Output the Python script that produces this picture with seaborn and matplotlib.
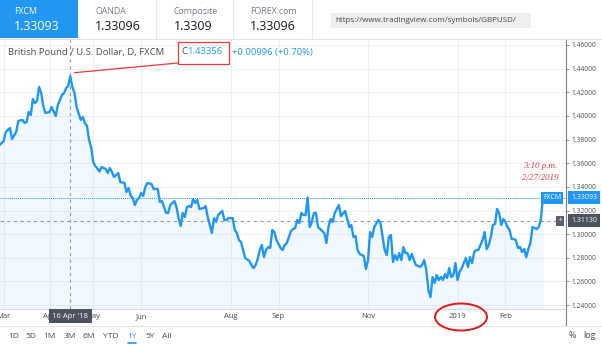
import numpy as np
import pandas as pd
import matplotlib
matplotlib.use("Agg")
import matplotlib.pyplot as plt
import matplotlib.transforms as mtransforms
from matplotlib.patches import Rectangle, Ellipse, ConnectionPatch
from matplotlib.lines import Line2D
import seaborn as sns

# GBP/USD daily closes (FXCM), indexed by trading day counted from 27 Feb 2018
day = [0, 2, 3, 5, 6, 8, 9, 11, 12, 13, 14, 15, 16, 17, 18, 19, 20, 21, 22, 24,
       25, 27, 28, 29, 30, 31, 32, 33, 34, 35, 36, 37, 39, 40, 41, 42, 43, 44, 45, 46,
       47, 48, 49, 51, 52, 53, 54, 55, 57, 58, 60, 61, 62, 63, 64, 65, 66, 67, 68, 69,
       70, 71, 73, 74, 76, 77, 78, 79, 80, 81, 82, 84, 85, 86, 87, 88, 89, 90, 91, 92,
       93, 94, 95, 96, 98, 99, 100, 101, 102, 103, 104, 105, 107, 108, 109, 110, 112, 113, 114, 115,
       116, 117, 118, 120, 121, 122, 123, 124, 125, 126, 127, 128, 129, 130, 131, 132, 133, 135, 136, 137,
       138, 139, 140, 141, 142, 143, 144, 145, 146, 147, 148, 149, 150, 151, 152, 153, 154, 156, 157, 158,
       159, 160, 161, 163, 164, 166, 167, 168, 169, 170, 171, 172, 173, 175, 176, 177, 178, 179, 180, 182,
       183, 184, 185, 186, 187, 188, 189, 190, 191, 192, 193, 194, 195, 196, 197, 198, 199, 200, 202, 203,
       204, 205, 206, 207, 208, 209, 210, 211, 212, 213, 214, 215, 216, 217, 218, 219, 220, 221, 222, 224,
       225, 226, 227, 228, 229, 230, 231, 232, 233, 234, 235, 236, 237, 238, 239, 240, 241, 242, 243, 244,
       245, 246, 247, 248, 249, 250, 251, 252, 253, 254, 255, 256, 257, 258, 259, 260, 261]
close = [1.3754, 1.3788, 1.3864, 1.3898, 1.3805, 1.3864, 1.3957, 1.3966, 1.3940, 1.3949,
         1.4033, 1.4008, 1.4143, 1.4109, 1.4126, 1.4245, 1.4194, 1.4084, 1.4025, 1.4033,
         1.4075, 1.3999, 1.4092, 1.4135, 1.4177, 1.4194, 1.4236, 1.4253, 1.43356, 1.4245,
         1.4194, 1.4075, 1.3966, 1.3991, 1.3940, 1.3915, 1.3796, 1.3737, 1.3610, 1.3576,
         1.3555, 1.3530, 1.3568, 1.3551, 1.3517, 1.3559, 1.3526, 1.3483, 1.3517, 1.3441,
         1.3433, 1.3356, 1.3390, 1.3323, 1.3306, 1.3246, 1.3289, 1.3306, 1.3348, 1.3323,
         1.3399, 1.3433, 1.3424, 1.3382, 1.3382, 1.3272, 1.3280, 1.3229, 1.3179, 1.3179,
         1.3246, 1.3280, 1.3229, 1.3136, 1.3069, 1.3179, 1.3145, 1.3229, 1.3238, 1.3229,
         1.3297, 1.3263, 1.3289, 1.3213, 1.3221, 1.3238, 1.3145, 1.3077, 1.3010, 1.3136,
         1.3103, 1.3162, 1.3196, 1.3120, 1.3120, 1.3136, 1.3136, 1.3035, 1.3010, 1.2950,
         1.2933, 1.2866, 1.2798, 1.2773, 1.2739, 1.2713, 1.2739, 1.2790, 1.2866, 1.2908,
         1.2806, 1.2866, 1.2891, 1.2883, 1.3035, 1.3018, 1.2950, 1.2883, 1.2866, 1.2908,
         1.2925, 1.2976, 1.3026, 1.3043, 1.3052, 1.3120, 1.3094, 1.3179, 1.3162, 1.3162,
         1.3310, 1.3060, 1.3103, 1.3179, 1.3179, 1.3060, 1.3043, 1.3010, 1.2925, 1.3060,
         1.3128, 1.3103, 1.3179, 1.3246, 1.3153, 1.3196, 1.3128, 1.3060, 1.3077, 1.2976,
         1.2984, 1.2866, 1.2832, 1.2815, 1.2705, 1.2781, 1.3018, 1.2976, 1.3060, 1.3120,
         1.3094, 1.2976, 1.2866, 1.2823, 1.2976, 1.2993, 1.2764, 1.2823, 1.2781, 1.2840,
         1.2781, 1.2891, 1.2840, 1.2840, 1.2781, 1.2832, 1.2781, 1.2739, 1.2722, 1.2739,
         1.2781, 1.2697, 1.2527, 1.2468, 1.2637, 1.2587, 1.2654, 1.2612, 1.2637, 1.2612,
         1.2663, 1.2629, 1.2713, 1.2637, 1.2654, 1.2756, 1.2612, 1.2680, 1.2713, 1.2798,
         1.2722, 1.2806, 1.2756, 1.2849, 1.2866, 1.2866, 1.2908, 1.2950, 1.3018, 1.2874,
         1.2908, 1.2976, 1.3077, 1.3086, 1.3213, 1.3179, 1.3077, 1.3128, 1.3103, 1.3060,
         1.3035, 1.2959, 1.2959, 1.2950, 1.2883, 1.2891, 1.2849, 1.2874, 1.2806, 1.2874,
         1.2925, 1.3060, 1.3052, 1.3043, 1.3060, 1.3120, 1.33093]

# month boundaries on the trading-day axis
tick_days = [2, 24, 45, 68, 111, 134, 177, 220, 243]
tick_labels = ["Mar", "Apr", "May", "Jun", "Aug", "Sep", "Nov", "2019", "Feb"]
price_ticks = [1.24, 1.26, 1.28, 1.30, 1.32, 1.34, 1.36, 1.38, 1.40, 1.42, 1.44, 1.46]

last_close = 1.33093
cursor_price = 1.31130
cursor_day = 34
cursor_label = "16 Apr '18"
peak_label = "1.43356"
change_label = "+0.00996 (+0.70%)"
title = "British Pound / U.S. Dollar, D, FXCM"
stamp = ["3:10 p.m.", "2/27/2019"]

feeds = ["FXCM", "OANDA", "Composite", "FOREX.com"]
feed_prices = ["1.33093", "1.33096", "1.3309", "1.33096"]
url = "https://www.tradingview.com/symbols/GBPUSD/"
ranges = ["1D", "5D", "1M", "3M", "6M", "YTD", "1Y", "5Y", "All"]
active_range = "1Y"

BLUE = "#2196f3"
RED = "#e8383d"
GRID = "#edf1f6"
TEXT = "#4a4a4a"
DARK = "#4c525e"

sns.set_style("white")
plt.rcParams["font.family"] = ["Open Sans", "DejaVu Sans"]

W, H = 602, 349
fig = plt.figure(figsize=(W / 100, H / 100), dpi=100)
fig.patch.set_facecolor("white")
# pixel coordinates measured from the top-left corner of the figure
px = mtransforms.Affine2D().scale(1 / W, -1 / H).translate(0, 1) + fig.transFigure

ax = fig.add_axes([0, 1 - 309 / H, 566 / W, (309 - 40) / H])
df = pd.DataFrame({"day": day, "close": close})
y_lo, y_hi = 1.2367, 1.4642
ax.fill_between(df["day"], df["close"], y_lo, color=BLUE, alpha=0.06, lw=0, zorder=2)
sns.lineplot(data=df, x="day", y="close", ax=ax, color=BLUE, lw=1.7, zorder=4)
ax.set_xlim(0.22, 272.1)
ax.set_ylim(y_lo, y_hi)

ax.yaxis.tick_right()
ax.set_yticks(price_ticks)
ax.set_yticklabels([f"{v:.5f}" for v in price_ticks])
ax.set_xticks(tick_days)
ax.set_xticklabels(tick_labels)
ax.set_xlabel("")
ax.set_ylabel("")
ax.grid(True, color=GRID, lw=0.8, zorder=0)
for s in ("top", "left"):
    ax.spines[s].set_visible(False)
ax.spines["right"].set_color("#7b7f8a")
ax.spines["right"].set_linewidth(0.8)
ax.spines["bottom"].set_color("#d6dae2")
ax.spines["bottom"].set_linewidth(0.8)
ax.tick_params(axis="y", length=2, width=0.6, color="#7b7f8a", labelsize=4.8,
               labelcolor=TEXT, pad=2)
ax.tick_params(axis="x", length=2, width=0.6, color="#b8bcc6", labelsize=5.5,
               labelcolor=TEXT, pad=1.0)

# last price guide and crosshair
ax.axhline(last_close, color=BLUE, lw=0.7, ls=(0, (1, 1)), zorder=3)
ax.axhline(cursor_price, color="#9598a1", lw=0.8, ls=(0, (3, 3)), zorder=3)
ax.axvline(cursor_day, color="#9598a1", lw=0.8, ls=(0, (3, 3)), zorder=3)

# right-hand price tags
tag_tr = mtransforms.blended_transform_factory(px, ax.transData)
fig.text(584, last_close, f"{last_close:.5f}", transform=tag_tr, ha="center", va="center",
         fontsize=5, color="white", zorder=6,
         bbox=dict(boxstyle="square,pad=0.45", fc=BLUE, ec="none"))
fig.text(552, last_close, feeds[0], transform=tag_tr, ha="center", va="center",
         fontsize=5, color="white", zorder=6,
         bbox=dict(boxstyle="square,pad=0.35", fc=BLUE, ec="none"))
fig.text(584, cursor_price, f"{cursor_price:.5f}", transform=tag_tr, ha="center", va="center",
         fontsize=5, color="white", zorder=6,
         bbox=dict(boxstyle="square,pad=0.45", fc=DARK, ec="none"))
fig.text(560, cursor_price, "+", transform=tag_tr, ha="center", va="center",
         fontsize=6, color="white", zorder=6,
         bbox=dict(boxstyle="square,pad=0.15", fc="#5d606b", ec="none"))

# crosshair date tag
date_tr = mtransforms.blended_transform_factory(ax.transData, px)
fig.text(cursor_day, 316, cursor_label, transform=date_tr, ha="center", va="center",
         fontsize=5.5, color="white", zorder=6,
         bbox=dict(boxstyle="square,pad=0.5", fc=DARK, ec="none"))

# legend line at the top of the pane
fig.text(8, 52, title, transform=px, ha="left", va="center", fontsize=6.8, color=TEXT, zorder=6)
fig.text(181.5, 52, "C", transform=px, ha="left", va="center", fontsize=6.8, color=TEXT, zorder=6)
fig.text(187.5, 52, peak_label, transform=px, ha="left", va="center", fontsize=6.8, color=BLUE, zorder=6)
fig.text(232, 52, change_label, transform=px, ha="left", va="center", fontsize=6.8, color=BLUE, zorder=6)
fig.add_artist(Rectangle((178, 42), 51, 22, transform=px, fill=False, ec=RED, lw=0.9, zorder=6))
fig.add_artist(ConnectionPatch(xyA=(cursor_day + 2, float(peak_label) + 0.003), coordsA=ax.transData,
                               xyB=(178, 63), coordsB=px, color=RED, lw=0.9, zorder=6))

# handwritten time stamp
for i, s in enumerate(stamp):
    fig.text(540, 166 + 12 * i, s, transform=px, ha="center", va="center", fontsize=6.5,
             color=RED, style="italic", family=["Liberation Serif", "DejaVu Serif"], zorder=6)

# circle round the year label
fig.add_artist(Ellipse((461, 317), 52, 27, transform=px, fill=False, ec="#e01818", lw=1.4, zorder=7))

# header tabs
fig.add_artist(Rectangle((0, 0), 78, 38, transform=px, fc=BLUE, ec="none", zorder=1))
tab_x = [14, 95, 174, 250]
for i, (f, p) in enumerate(zip(feeds, feed_prices)):
    first = i == 0
    fig.text(tab_x[i], 12, f, transform=px, ha="left", va="center", fontsize=6.3,
             color="white" if first else "#787b86", zorder=5)
    fig.text(tab_x[i], 26, p, transform=px, ha="left", va="center", fontsize=9,
             color="white" if first else "#131722", zorder=5)
for xs in (156, 233, 312):
    fig.add_artist(Line2D([xs, xs], [0, 38], transform=px, color="#e6e8ee", lw=0.8))
fig.add_artist(Line2D([0, W], [39, 39], transform=px, color="#e0e3eb", lw=0.8))
fig.add_artist(Rectangle((331, 13), 200, 15, transform=px, fc="#efefef", ec="none", zorder=1))
fig.text(335, 20.5, url, transform=px, ha="left", va="center", fontsize=5.8, color="#444444", zorder=5)

# date-axis frame and range toolbar
fig.add_artist(Line2D([566, 566], [309, 326], transform=px, color="#7b7f8a", lw=0.8))
fig.add_artist(Line2D([0, W], [326, 326], transform=px, color="#e0e3eb", lw=0.8))
range_x = [13.5, 31, 49, 69.5, 89, 111, 132, 150.5, 167]
for xr, r in zip(range_x, ranges):
    fig.text(xr, 336, r, transform=px, ha="center", va="center", fontsize=6,
             color=BLUE if r == active_range else TEXT, zorder=5)
    if r == active_range:
        fig.add_artist(Line2D([xr - 4, xr + 4], [343, 343], transform=px, color=BLUE, lw=1.2))
fig.text(572, 336, "%", transform=px, ha="center", va="center", fontsize=6.5, color=TEXT)
fig.text(590, 336, "log", transform=px, ha="center", va="center", fontsize=6.5, color=TEXT)

fig.savefig("out.png", dpi=100, facecolor="white")
